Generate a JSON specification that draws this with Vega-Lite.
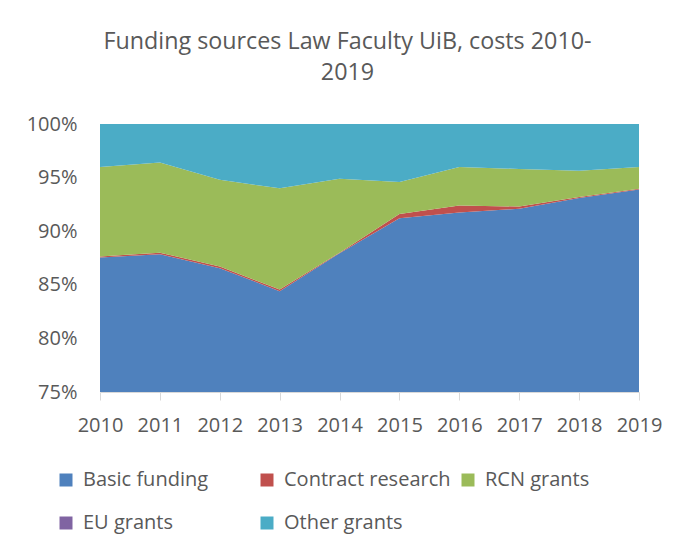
{
  "$schema": "https://vega.github.io/schema/vega-lite/v6.json",
  "autosize": "none",
  "width": 539,
  "height": 268,
  "padding": {"left": 100, "top": 124, "right": 44, "bottom": 162},
  "background": "white",
  "title": {
    "text": ["Funding sources Law Faculty UiB, costs 2010-", "2019"],
    "anchor": "middle",
    "dx": -22,
    "offset": 29,
    "font": "Open Sans",
    "fontSize": 23.3,
    "fontWeight": "normal",
    "color": "#595959",
    "lineHeight": 31
  },
  "data": {
    "values": [
      {"year": 2010, "source": "Basic funding", "k": 1, "share": 0.8755},
      {"year": 2010, "source": "Contract research", "k": 2, "share": 0.001},
      {"year": 2010, "source": "RCN grants", "k": 3, "share": 0.0835},
      {"year": 2010, "source": "EU grants", "k": 4, "share": 0.0},
      {"year": 2010, "source": "Other grants", "k": 5, "share": 0.04},
      {"year": 2011, "source": "Basic funding", "k": 1, "share": 0.8785},
      {"year": 2011, "source": "Contract research", "k": 2, "share": 0.0015},
      {"year": 2011, "source": "RCN grants", "k": 3, "share": 0.084},
      {"year": 2011, "source": "EU grants", "k": 4, "share": 0.0},
      {"year": 2011, "source": "Other grants", "k": 5, "share": 0.036},
      {"year": 2012, "source": "Basic funding", "k": 1, "share": 0.8655},
      {"year": 2012, "source": "Contract research", "k": 2, "share": 0.0015},
      {"year": 2012, "source": "RCN grants", "k": 3, "share": 0.081},
      {"year": 2012, "source": "EU grants", "k": 4, "share": 0.0},
      {"year": 2012, "source": "Other grants", "k": 5, "share": 0.052},
      {"year": 2013, "source": "Basic funding", "k": 1, "share": 0.844},
      {"year": 2013, "source": "Contract research", "k": 2, "share": 0.0015},
      {"year": 2013, "source": "RCN grants", "k": 3, "share": 0.0945},
      {"year": 2013, "source": "EU grants", "k": 4, "share": 0.0},
      {"year": 2013, "source": "Other grants", "k": 5, "share": 0.06},
      {"year": 2014, "source": "Basic funding", "k": 1, "share": 0.8795},
      {"year": 2014, "source": "Contract research", "k": 2, "share": 0.0005},
      {"year": 2014, "source": "RCN grants", "k": 3, "share": 0.069},
      {"year": 2014, "source": "EU grants", "k": 4, "share": 0.0},
      {"year": 2014, "source": "Other grants", "k": 5, "share": 0.051},
      {"year": 2015, "source": "Basic funding", "k": 1, "share": 0.912},
      {"year": 2015, "source": "Contract research", "k": 2, "share": 0.004},
      {"year": 2015, "source": "RCN grants", "k": 3, "share": 0.03},
      {"year": 2015, "source": "EU grants", "k": 4, "share": 0.0},
      {"year": 2015, "source": "Other grants", "k": 5, "share": 0.054},
      {"year": 2016, "source": "Basic funding", "k": 1, "share": 0.9175},
      {"year": 2016, "source": "Contract research", "k": 2, "share": 0.0065},
      {"year": 2016, "source": "RCN grants", "k": 3, "share": 0.036},
      {"year": 2016, "source": "EU grants", "k": 4, "share": 0.0},
      {"year": 2016, "source": "Other grants", "k": 5, "share": 0.04},
      {"year": 2017, "source": "Basic funding", "k": 1, "share": 0.921},
      {"year": 2017, "source": "Contract research", "k": 2, "share": 0.002},
      {"year": 2017, "source": "RCN grants", "k": 3, "share": 0.035},
      {"year": 2017, "source": "EU grants", "k": 4, "share": 0.0},
      {"year": 2017, "source": "Other grants", "k": 5, "share": 0.042},
      {"year": 2018, "source": "Basic funding", "k": 1, "share": 0.931},
      {"year": 2018, "source": "Contract research", "k": 2, "share": 0.001},
      {"year": 2018, "source": "RCN grants", "k": 3, "share": 0.0245},
      {"year": 2018, "source": "EU grants", "k": 4, "share": 0.0},
      {"year": 2018, "source": "Other grants", "k": 5, "share": 0.0435},
      {"year": 2019, "source": "Basic funding", "k": 1, "share": 0.939},
      {"year": 2019, "source": "Contract research", "k": 2, "share": 0.0005},
      {"year": 2019, "source": "RCN grants", "k": 3, "share": 0.0205},
      {"year": 2019, "source": "EU grants", "k": 4, "share": 0.0},
      {"year": 2019, "source": "Other grants", "k": 5, "share": 0.04}
    ]
  },
  "mark": {"type": "area", "clip": true, "opacity": 1},
  "encoding": {
    "x": {
      "field": "year",
      "type": "quantitative",
      "scale": {"domain": [2010, 2019], "nice": false, "zero": false},
      "axis": {
        "title": null,
        "values": [2010, 2011, 2012, 2013, 2014, 2015, 2016, 2017, 2018, 2019],
        "format": "d",
        "grid": false,
        "labelOverlap": false,
        "labelBound": false,
        "labelFlush": false,
        "domainColor": "#d9d9d9",
        "tickColor": "#d9d9d9",
        "tickSize": 8,
        "labelPadding": 15,
        "labelFont": "Open Sans",
        "labelFontSize": 20,
        "labelColor": "#595959"
      }
    },
    "y": {
      "field": "share",
      "type": "quantitative",
      "stack": "normalize",
      "scale": {"domain": [0.75, 1], "nice": false, "zero": false},
      "axis": {
        "title": null,
        "values": [0.75, 0.8, 0.85, 0.9, 0.95, 1.0],
        "format": ".0%",
        "grid": false,
        "domain": false,
        "ticks": false,
        "labelOverlap": false,
        "labelPadding": 23,
        "labelFont": "Open Sans",
        "labelFontSize": 20,
        "labelColor": "#595959"
      }
    },
    "color": {
      "field": "source",
      "type": "nominal",
      "sort": ["Basic funding", "Contract research", "RCN grants", "EU grants", "Other grants"],
      "scale": {
        "domain": ["Basic funding", "Contract research", "RCN grants", "EU grants", "Other grants"],
        "range": ["#4F81BD", "#C0504D", "#9BBB59", "#8064A2", "#4BACC6"]
      },
      "legend": {
        "title": null,
        "orient": "none",
        "legendX": -44,
        "legendY": 346,
        "direction": "horizontal",
        "columns": 3,
        "gridAlign": "all",
        "columnPadding": 7,
        "rowPadding": 23,
        "symbolType": "square",
        "symbolSize": 169,
        "symbolStrokeWidth": 0,
        "symbolOpacity": 1,
        "labelOffset": 7,
        "labelFont": "Open Sans",
        "labelFontSize": 20,
        "labelColor": "#595959",
        "labelLimit": 300
      }
    },
    "order": {"field": "k", "type": "quantitative", "sort": "ascending"}
  },
  "config": {"view": {"stroke": null}}
}
